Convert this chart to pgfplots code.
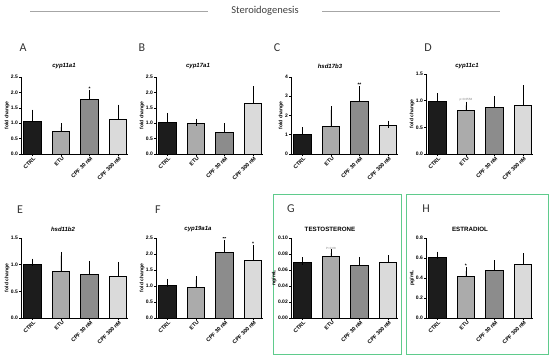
\documentclass[border=0pt]{standalone}
\usepackage{fontspec}
\setmainfont{Liberation Sans}
\newfontfamily\calib{Carlito}
\usepackage{pgfplots}
\pgfplotsset{compat=1.18}
\definecolor{cctrl}{HTML}{1C1C1C}
\definecolor{cetu}{HTML}{ABABAB}
\definecolor{ccpfa}{HTML}{8C8C8C}
\definecolor{ccpfb}{HTML}{DADADA}
\definecolor{boxgreen}{HTML}{5FCB8C}
\newcommand{\tickfont}{\fontsize{5}{6}\selectfont\bfseries}
\newcommand{\xlabfont}{\fontsize{5.4}{6}\selectfont\bfseries}
\pgfplotsset{
  panel/.style={
    scale only axis, width=107pt, height=77pt,
    anchor=south west,
    axis lines*=left,
    ybar, bar width=17.5pt, bar shift=0pt,
    xmin=-0.4, xmax=3.35, ymin=0,
    xtick={0,1,2,3}, xticklabels={CTRL,ETU,CPF 30 nM,CPF 300 nM},
    x tick label style={rotate=45, anchor=north east, font=\xlabfont, inner sep=0.5pt, xshift=1pt},
    y tick label style={font=\tickfont, inner sep=1pt},
    tick align=outside, major tick length=2pt,
    tick style={black, line width=0.5pt},
    axis line style={line width=0.6pt},
    ylabel={fold change},
    ylabel style={font=\fontsize{5}{6}\selectfont\bfseries, yshift=-3pt},
    /pgf/number format/assume math mode=true,
    /pgf/number format/fixed, /pgf/number format/fixed zerofill,
    /pgf/number format/precision=1,
    error bars/y dir=plus, error bars/y explicit,
    error bars/error bar style={line width=0.6pt, black},
    error bars/error mark options={line width=0.6pt, black, mark size=3.8pt},
  },
  b1/.style={fill=cctrl, draw=black, line width=0.6pt},
  b2/.style={fill=cetu, draw=black, line width=0.6pt},
  b3/.style={fill=ccpfa, draw=black, line width=0.6pt},
  b4/.style={fill=ccpfb, draw=black, line width=0.6pt},
}
\begin{document}
\begin{tikzpicture}[x=1pt, y=1pt]
\useasboundingbox (0,0) rectangle (550,359);

% header
\draw[gray!70, line width=0.8pt] (30,348) -- (208,348);
\draw[gray!70, line width=0.8pt] (322,348) -- (500,348);
\node[font=\calib\fontsize{10.5}{12}\selectfont, text=black!75] at (265,348) {Steroidogenesis};

% green boxes
\draw[boxgreen, line width=1pt] (273,4) rectangle (401,164);
\draw[boxgreen, line width=1pt] (406,4) rectangle (548,164);

% panel letters
\foreach \l/\px/\py in {A/23/311, B/142/311, C/277/311, D/428/311, E/20/149, F/158/149, G/291/150, H/426/150}
  \node[font=\calib\fontsize{12}{13}\selectfont, text=black!80] at (\px,\py) {\l};

% A
\begin{axis}[panel, at={(21pt,205pt)}, ymax=2.5, ytick={0,0.5,...,2.5}]
\addplot[b1] coordinates {(0,1.05) +- (0,0.27)};
\addplot[b2] coordinates {(1,0.73) +- (0,0.14)};
\addplot[b3] coordinates {(2,1.77) +- (0,0.19)};
\addplot[b4] coordinates {(3,1.14) +- (0,0.34)};
\node[font=\tickfont, above] at (axis cs:2,1.96) {*};
\end{axis}
\node[font=\fontsize{6}{7}\selectfont\bfseries\itshape] at (64,293) {cyp11a1};

% B
\begin{axis}[panel, at={(156pt,205pt)}, ymax=2.5, ytick={0,0.5,...,2.5}]
\addplot[b1] coordinates {(0,1.04) +- (0,0.17)};
\addplot[b2] coordinates {(1,0.99) +- (0,0.03)};
\addplot[b3] coordinates {(2,0.69) +- (0,0.19)};
\addplot[b4] coordinates {(3,1.66) +- (0,0.42)};
\end{axis}
\node[font=\fontsize{6}{7}\selectfont\bfseries\itshape] at (198,293) {cyp17a1};

% C
\begin{axis}[panel, at={(291pt,205pt)}, ymax=4, ytick={0,1,2,3,4},
  /pgf/number format/precision=0]
\addplot[b1] coordinates {(0,1.04) +- (0,0.15)};
\addplot[b2] coordinates {(1,1.44) +- (0,0.85)};
\addplot[b3] coordinates {(2,2.74) +- (0,0.57)};
\addplot[b4] coordinates {(3,1.47) +- (0,0.07)};
\node[font=\tickfont, above] at (axis cs:2,3.31) {**};
\end{axis}
\node[font=\fontsize{6}{7}\selectfont\bfseries\itshape] at (330,293) {hsd17b3};

% D
\begin{axis}[panel, at={(426pt,205pt)}, height=80pt, ymax=1.5, ytick={0,0.5,1,1.5}]
\addplot[b1] coordinates {(0,0.99) +- (0,0.08)};
\addplot[b2] coordinates {(1,0.81) +- (0,0.10)};
\addplot[b3] coordinates {(2,0.88) +- (0,0.13)};
\addplot[b4] coordinates {(3,0.92) +- (0,0.30)};
\node[font=\fontsize{3}{3}\selectfont, text=gray, above] at (axis cs:1,0.93) {p=0.0558};
\end{axis}
\node[font=\fontsize{6}{7}\selectfont\bfseries\itshape] at (467,293) {cyp11c1};

% E
\begin{axis}[panel, at={(21pt,41pt)}, height=80pt, ymax=1.5, ytick={0,0.5,1,1.5}]
\addplot[b1] coordinates {(0,1.00) +- (0,0.04)};
\addplot[b2] coordinates {(1,0.88) +- (0,0.29)};
\addplot[b3] coordinates {(2,0.81) +- (0,0.19)};
\addplot[b4] coordinates {(3,0.79) +- (0,0.19)};
\end{axis}
\node[font=\fontsize{6}{7}\selectfont\bfseries\itshape] at (63,130) {hsd11b2};

% F
\begin{axis}[panel, at={(156pt,41pt)}, height=80pt, ymax=2.5, ytick={0,0.5,...,2.5}]
\addplot[b1] coordinates {(0,1.01) +- (0,0.09)};
\addplot[b2] coordinates {(1,0.95) +- (0,0.24)};
\addplot[b3] coordinates {(2,2.05) +- (0,0.27)};
\addplot[b4] coordinates {(3,1.79) +- (0,0.37)};
\node[font=\tickfont, above] at (axis cs:2,2.32) {**};
\node[font=\tickfont, above] at (axis cs:3,2.16) {*};
\end{axis}
\node[font=\fontsize{6}{7}\selectfont\bfseries\itshape] at (198,130) {cyp19a1a};

% G
\begin{axis}[panel, at={(291pt,41pt)}, height=80pt, ymax=0.1,
  ytick={0,0.02,...,0.1}, /pgf/number format/precision=2, ylabel={ng/mL}]
\addplot[b1] coordinates {(0,0.0700) +- (0,0.0014)};
\addplot[b2] coordinates {(1,0.0765) +- (0,0.0045)};
\addplot[b3] coordinates {(2,0.0660) +- (0,0.0058)};
\addplot[b4] coordinates {(3,0.0697) +- (0,0.0038)};
\node[font=\fontsize{3}{3}\selectfont, text=gray, above] at (axis cs:1,0.0815) {P=0.08};
\end{axis}
\node[font=\fontsize{6.2}{7}\selectfont\bfseries] at (330,130) {TESTOSTERONE};

% H
\begin{axis}[panel, at={(426pt,41pt)}, height=80pt, ymax=0.8,
  ytick={0,0.2,...,0.8}, ylabel={pg/mL}]
\addplot[b1] coordinates {(0,0.61) +- (0,0.015)};
\addplot[b2] coordinates {(1,0.42) +- (0,0.05)};
\addplot[b3] coordinates {(2,0.48) +- (0,0.06)};
\addplot[b4] coordinates {(3,0.54) +- (0,0.07)};
\node[font=\tickfont, above] at (axis cs:1,0.47) {*};
\end{axis}
\node[font=\fontsize{6.2}{7}\selectfont\bfseries] at (470,130) {ESTRADIOL};
\end{tikzpicture}
\end{document}
